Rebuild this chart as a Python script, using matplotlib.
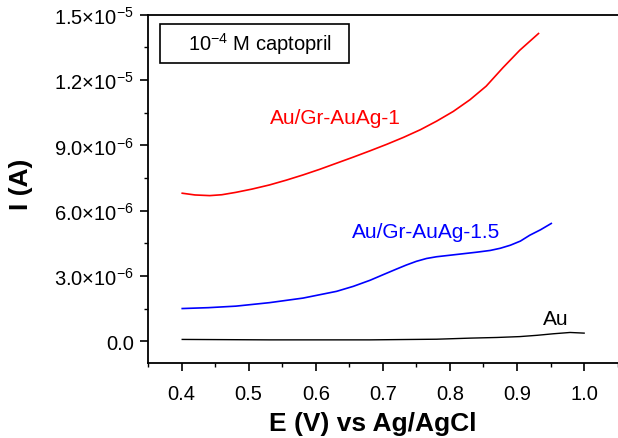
import matplotlib
matplotlib.use("Agg")
import matplotlib.pyplot as plt
import matplotlib.patches as mpatches
import numpy as np
from matplotlib.ticker import MultipleLocator, FixedLocator, FixedFormatter

plt.rcParams['font.family'] = ['Liberation Sans', 'DejaVu Sans']
plt.rcParams['mathtext.fontset'] = 'custom'
plt.rcParams['mathtext.rm'] = 'Liberation Sans'
plt.rcParams['mathtext.it'] = 'Liberation Sans:italic'
plt.rcParams['mathtext.bf'] = 'Liberation Sans:bold'

# red: Au/Gr-AuAg-1  (current in 1e-6 A)
e_red = [0.401, 0.420, 0.442, 0.460, 0.481, 0.505, 0.531, 0.556, 0.581, 0.606, 0.631, 0.656,
         0.681, 0.706, 0.731, 0.756, 0.780, 0.805, 0.830, 0.854, 0.879, 0.904, 0.932]
i_red = [6.80, 6.72, 6.69, 6.73, 6.84, 6.99, 7.18, 7.40, 7.64, 7.90, 8.18, 8.46,
         8.75, 9.05, 9.37, 9.72, 10.11, 10.56, 11.10, 11.72, 12.57, 13.37, 14.14]

# blue: Au/Gr-AuAg-1.5
e_blue = [0.401, 0.440, 0.481, 0.531, 0.581, 0.631, 0.656, 0.681, 0.700, 0.720, 0.735, 0.750,
          0.765, 0.780, 0.800, 0.820, 0.840, 0.860, 0.875, 0.890, 0.905, 0.919, 0.935, 0.951]
i_blue = [1.50, 1.54, 1.61, 1.77, 1.98, 2.29, 2.52, 2.80, 3.05, 3.31, 3.50, 3.67,
          3.80, 3.88, 3.95, 4.02, 4.09, 4.17, 4.27, 4.41, 4.60, 4.87, 5.12, 5.41]

# black: Au
e_au = [0.401, 0.531, 0.681, 0.780, 0.830, 0.870, 0.904, 0.930, 0.954, 0.979, 1.000]
i_au = [0.08, 0.06, 0.06, 0.09, 0.14, 0.17, 0.21, 0.27, 0.34, 0.40, 0.37]

y_ticks = [0.0, 3.0e-6, 6.0e-6, 9.0e-6, 1.2e-5, 1.5e-5]
y_labels = ['0.0', r'$\mathregular{3.0{\times}10^{-6}}$', r'$\mathregular{6.0{\times}10^{-6}}$',
            r'$\mathregular{9.0{\times}10^{-6}}$', r'$\mathregular{1.2{\times}10^{-5}}$',
            r'$\mathregular{1.5{\times}10^{-5}}$']

fig = plt.figure(figsize=(6.18, 4.39), dpi=100)
ax = fig.add_axes([0.2395, 0.171, 0.76, 0.793])

ax.plot(e_red, np.array(i_red) * 1e-6, color='red', lw=1.2)
ax.plot(e_blue, np.array(i_blue) * 1e-6, color='blue', lw=1.2)
ax.plot(e_au, np.array(i_au) * 1e-6, color='black', lw=1.0)

ax.set_xlim(0.35, 1.05)
ax.set_ylim(-1.0e-6, 1.5e-5)
ax.xaxis.set_major_locator(MultipleLocator(0.1))
ax.xaxis.set_minor_locator(MultipleLocator(0.05))
ax.yaxis.set_major_locator(FixedLocator(y_ticks))
ax.yaxis.set_major_formatter(FixedFormatter(y_labels))
ax.yaxis.set_minor_locator(MultipleLocator(1.5e-6))
ax.xaxis.set_major_formatter(plt.FormatStrFormatter('%.1f'))

ax.tick_params(which='major', direction='out', length=6, width=1.2, labelsize=14.5)
ax.tick_params(axis='x', which='major', pad=9)
ax.tick_params(axis='y', which='major', pad=4)
ax.tick_params(which='minor', direction='out', length=3, width=1.0)
ax.spines['right'].set_visible(False)
for s in ['left', 'bottom', 'top']:
    ax.spines[s].set_linewidth(1.3)

ax.set_xlabel('E (V) vs Ag/AgCl', fontsize=19, fontweight='bold')
ax.set_ylabel('I (A)', fontsize=19, fontweight='bold')
ax.xaxis.set_label_coords(0.479, -0.138)
ax.yaxis.set_label_coords(-0.245, 0.517)

ax.text(0.630, 10.26e-6, 'Au/Gr-AuAg-1', color='red', fontsize=15, ha='center', va='center')
ax.text(0.764, 5.06e-6, 'Au/Gr-AuAg-1.5', color='blue', fontsize=15, ha='center', va='center')
ax.text(0.957, 1.06e-6, 'Au', color='black', fontsize=15, ha='center', va='center')

ax.add_patch(mpatches.Rectangle((0.0255, 0.862), 0.402, 0.112, transform=ax.transAxes,
                                fc='white', ec='black', lw=1.2))
ax.text(0.239, 0.918, r'$\mathregular{10^{-4}}$ M captopril', transform=ax.transAxes,
        fontsize=14.5, ha='center', va='center')

fig.savefig('out.png', dpi=100)
